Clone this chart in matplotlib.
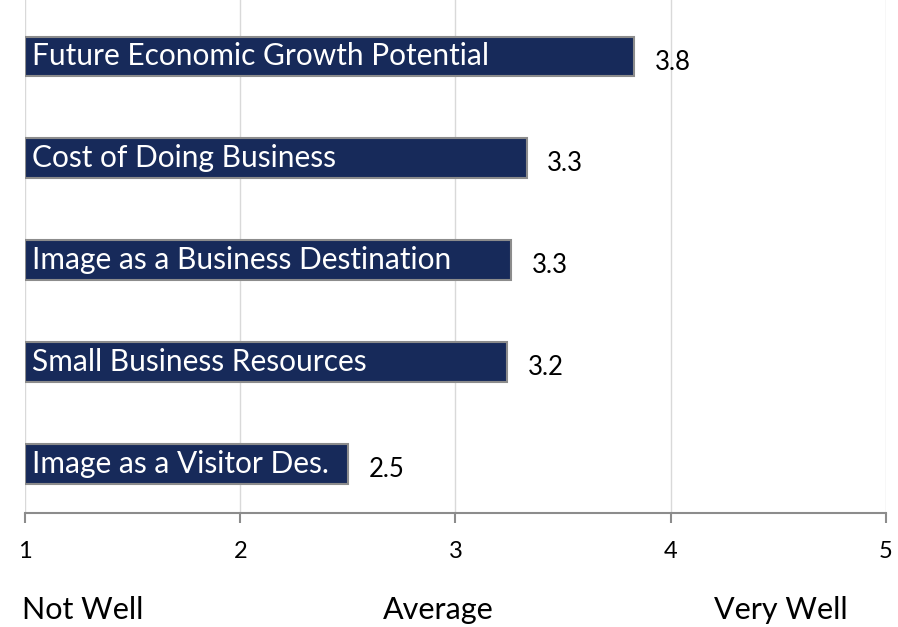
import matplotlib
matplotlib.use('Agg')
import matplotlib.pyplot as plt

# chart data
categories = ['Future Economic Growth Potential', 'Cost of Doing Business',
              'Image as a Business Destination', 'Small Business Resources',
              'Image as a Visitor Des.']
scores = [3.83, 3.33, 3.26, 3.24, 2.50]
score_labels = ['3.8', '3.3', '3.3', '3.2', '2.5']
ticks = [1, 2, 3, 4, 5]
scale_words = ['Not Well', 'Average', 'Very Well']

plt.rcParams['font.family'] = ['Lato', 'DejaVu Sans']

fig = plt.figure(figsize=(8.98, 6.27), dpi=100)
ax = fig.add_axes([25 / 898, 1 - 513 / 627, 861 / 898, 513 / 627])

navy = '#172a5a'
ypos = list(range(len(categories)))
ax.barh(ypos, [s - 1 for s in scores], left=1, height=0.39,
        color=navy, edgecolor='#8c8c8c', linewidth=1.5, zorder=3)

for y, name, s, lab in zip(ypos, categories, scores, score_labels):
    ax.annotate(name, xy=(1, y), xytext=(5, 0), textcoords='offset points',
                ha='left', va='center', color='white', fontsize=21.5, zorder=4)
    ax.annotate(lab, xy=(s, y), xytext=(15, -4), textcoords='offset points',
                ha='left', va='center', color='black', fontsize=18.5)

ax.set_xlim(1, 5)
ax.set_ylim(4.48, -0.554)
ax.set_xticks(ticks)
ax.set_xticklabels([str(t) for t in ticks], fontsize=17)
ax.set_yticks([])
ax.grid(axis='x', color='#d9d9d9', linewidth=1, zorder=0)
for side in ['top', 'right', 'left']:
    ax.spines[side].set_visible(False)
ax.spines['bottom'].set_color('#8c8c8c')
ax.spines['bottom'].set_linewidth(1.5)
ax.tick_params(axis='x', direction='out', length=7, width=1.5, color='#8c8c8c',
               pad=13)

# scale descriptions under the axis
ax.text(-0.004, -0.19, scale_words[0], transform=ax.transAxes, ha='left',
        va='center', fontsize=22)
ax.text(0.48, -0.19, scale_words[1], transform=ax.transAxes, ha='center',
        va='center', fontsize=22)
ax.text(0.878, -0.19, scale_words[2], transform=ax.transAxes, ha='center',
        va='center', fontsize=22)

fig.savefig('out.png', dpi=100)
